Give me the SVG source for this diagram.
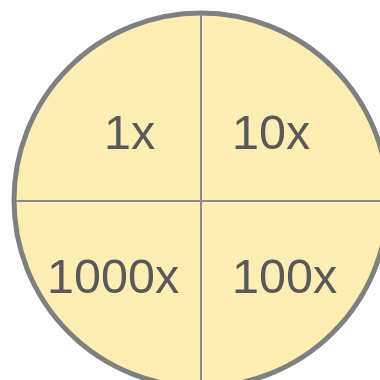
<svg xmlns="http://www.w3.org/2000/svg" width="380" height="380" viewBox="0 0 380 380">
<style>
.lbl{font-family:"Liberation Sans",Arial,sans-serif;font-size:48.5px;fill:#595959}
.div{stroke:#8a8a8a;stroke-width:2;fill:none}
</style>
<rect width="380" height="380" fill="#ffffff"/>
<g id="circle">
<circle cx="201" cy="200" r="187" fill="#ffeeb4" stroke="#808080" stroke-width="5"/>
</g>
<g id="connectors">
<line class="div" x1="201" y1="14" x2="201" y2="386"/>
<line class="div" x1="16" y1="201" x2="386" y2="201"/>
</g>
<g id="q1"><text class="lbl" x="104" y="148.5">1x</text></g>
<g id="q2"><text class="lbl" x="232" y="148.5">10x</text></g>
<g id="q3"><text class="lbl" x="47" y="292.5">1000x</text></g>
<g id="q4"><text class="lbl" x="232" y="292.5">100x</text></g>
</svg>
